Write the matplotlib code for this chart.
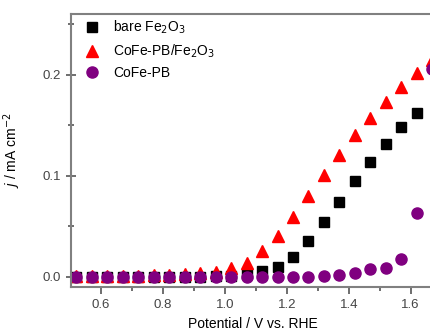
import numpy as np
import matplotlib.pyplot as plt

plt.rcParams['font.family'] = ['Liberation Sans', 'DejaVu Sans']

# potentials (V vs. RHE)
potential = [0.52, 0.57, 0.62, 0.67, 0.72, 0.77, 0.82, 0.87, 0.92, 0.97, 1.02, 1.07,
             1.12, 1.17, 1.22, 1.27, 1.32, 1.37, 1.42, 1.47, 1.52, 1.57, 1.62, 1.67]

bare_fe2o3 = [0.000, 0.000, 0.000, 0.000, 0.000, 0.000, 0.000, 0.000, 0.000, 0.001, 0.001, 0.003,
              0.006, 0.010, 0.020, 0.036, 0.054, 0.074, 0.095, 0.114, 0.132, 0.148, 0.162]
cofe_pb_fe2o3 = [0.001, 0.001, 0.001, 0.001, 0.001, 0.002, 0.002, 0.003, 0.004, 0.005, 0.009, 0.014,
                 0.026, 0.041, 0.059, 0.080, 0.101, 0.121, 0.140, 0.157, 0.173, 0.188, 0.202, 0.215]
cofe_pb = [0.000, 0.000, 0.000, 0.000, 0.000, 0.000, 0.000, 0.000, 0.000, 0.000, 0.000, 0.000,
           0.000, 0.000, 0.000, 0.000, 0.001, 0.002, 0.004, 0.008, 0.009, 0.018, 0.063, 0.206]

fig = plt.figure(figsize=(4.3, 3.35), dpi=100)
ax = fig.add_axes([0.165, 0.143, 1.035, 0.815])

ax.plot(potential[:len(bare_fe2o3)], bare_fe2o3, 's', color='black', ms=6.5, label='bare Fe$_2$O$_3$')
ax.plot(potential, cofe_pb_fe2o3, '^', color='red', ms=8, label='CoFe-PB/Fe$_2$O$_3$')
ax.plot(potential, cofe_pb, 'o', color='#800080', ms=8, label='CoFe-PB')

ax.set_xlim(0.503, 1.94)
ax.set_ylim(-0.01, 0.26)
ax.set_xticks([0.6, 0.8, 1.0, 1.2, 1.4, 1.6])
ax.set_xticks(np.arange(0.7, 1.8, 0.2), minor=True)
ax.set_yticks([0.0, 0.1, 0.2])
ax.set_yticks([0.05, 0.15, 0.25], minor=True)

for s in ax.spines.values():
    s.set_color('#808080')
    s.set_linewidth(1.5)

ax.tick_params(axis='x', which='both', direction='out', color='#555555', width=1.2, labelcolor='#444444', labelsize=9.5)
ax.tick_params(axis='x', which='major', length=5)
ax.tick_params(axis='x', which='minor', length=3)
ax.tick_params(axis='y', which='both', direction='inout', color='#555555', width=1.2, labelcolor='#444444', labelsize=9.5)
ax.tick_params(axis='y', which='major', length=7)
ax.tick_params(axis='y', which='minor', length=5)

ax.set_xlabel('Potential / V vs. RHE', fontsize=10)
ax.xaxis.set_label_coords(0.409, -0.11)
ax.set_ylabel('$j$ / mA cm$^{-2}$', fontsize=10)
ax.yaxis.set_label_coords(-0.108, 0.5)

ax.legend(loc='upper left', frameon=False, fontsize=10, handletextpad=0.5,
          borderaxespad=0.3, labelspacing=0.45, bbox_to_anchor=(-0.005, 1.018))

fig.savefig('out.png', dpi=100)
